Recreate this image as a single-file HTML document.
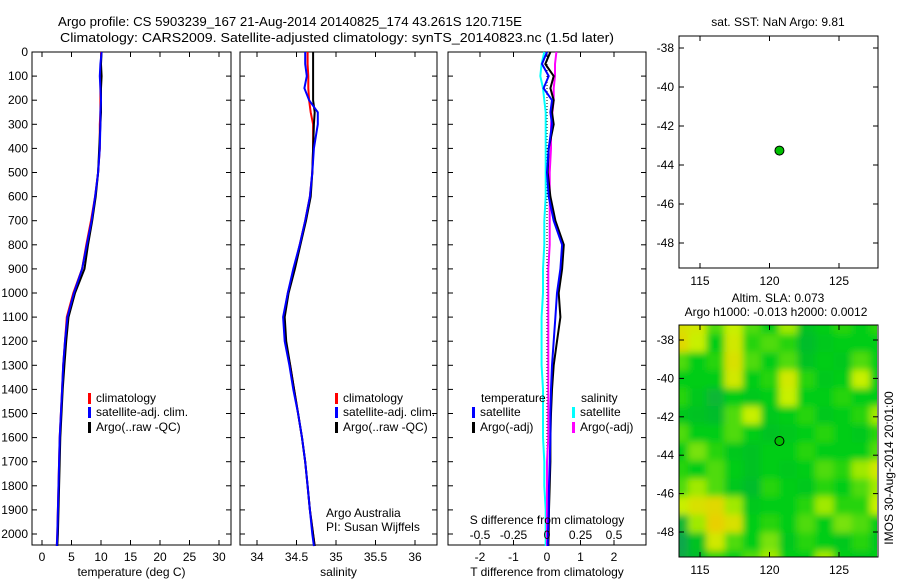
<!DOCTYPE html>
<html><head><meta charset="utf-8"><style>
body{margin:0;background:#fff}
svg text{font-family:"Liberation Sans",sans-serif;font-size:12px;fill:#000}
</style></head><body>
<svg id="c" width="900" height="580" xmlns="http://www.w3.org/2000/svg">
<defs>
<filter id="bl" x="-10%" y="-10%" width="120%" height="120%"><feGaussianBlur stdDeviation="3.5"/></filter>
<clipPath id="hc"><rect x="679" y="325" width="198" height="232"/></clipPath>
</defs>
<text x="58" y="26" style="font-size:13px" textLength="464" lengthAdjust="spacingAndGlyphs">Argo profile: CS 5903239_167 21-Aug-2014 20140825_174 43.261S 120.715E</text>
<text x="60" y="42" style="font-size:13px" textLength="554" lengthAdjust="spacingAndGlyphs">Climatology: CARS2009. Satellite-adjusted climatology: synTS_20140823.nc (1.5d later)</text>
<g id="g"></g>
</svg>
<script>
const depths=[0,50,100,150,200,250,300,400,500,600,700,800,900,1000,1100,1200,1300,1400,1500,1600,1700,1800,1900,2000,2050];
const tClim=[10,10,9.9,9.9,9.9,9.9,9.8,9.8,9.5,9.0,8.3,7.5,6.8,5.3,4.2,3.9,3.6,3.4,3.2,3.0,2.9,2.8,2.7,2.6,2.5];
const tSat=[10.1,9.9,9.8,9.9,10,9.9,9.9,9.8,9.5,9.0,8.4,7.6,6.8,5.4,4.3,3.9,3.6,3.4,3.2,3.0,2.9,2.8,2.7,2.6,2.5];
const tArgo=[10.1,10,10.1,10,10,10,9.9,9.7,9.5,9.1,8.5,7.8,7.2,5.6,4.5,4.1,3.8,3.5,3.3,3.1,3.0,2.9,2.8,2.7,2.6];
const sClim=[34.64,34.64,34.65,34.65,34.66,34.68,34.71,34.71,34.70,34.67,34.61,34.54,34.47,34.39,34.34,34.36,34.42,34.47,34.52,34.57,34.61,34.64,34.67,34.71,34.73];
const sSat=[34.61,34.61,34.63,34.60,34.66,34.77,34.77,34.72,34.70,34.67,34.61,34.54,34.46,34.39,34.33,34.35,34.41,34.46,34.52,34.57,34.61,34.64,34.67,34.70,34.72];
const sArgo=[34.71,34.71,34.71,34.71,34.71,34.73,34.72,34.71,34.70,34.68,34.62,34.55,34.48,34.40,34.35,34.37,34.42,34.47,34.52,34.57,34.61,34.64,34.67,34.71,34.73];
const dTsat=[0.0,-0.15,0.05,-0.1,0.15,0.1,0.15,0.05,0.0,0.05,0.2,0.45,0.4,0.3,0.25,0.2,0.15,0.12,0.1,0.1,0.08,0.06,0.05,0.03,0.02];
const dTargo=[0.1,-0.05,0.2,0.1,0.2,0.15,0.2,0.05,0.02,0.1,0.25,0.5,0.45,0.35,0.4,0.3,0.2,0.15,0.12,0.1,0.1,0.08,0.06,0.05,0.04];
const dSsat=[-0.02,-0.04,-0.05,-0.03,-0.02,-0.01,-0.01,-0.01,-0.01,-0.01,-0.02,-0.02,-0.03,-0.03,-0.04,-0.04,-0.04,-0.03,-0.03,-0.03,-0.02,-0.02,-0.01,-0.01,-0.01];
const dSargo=[0.07,0.06,0.06,0.05,0.05,0.04,0.03,0.03,0.02,0.02,0.02,0.02,0.01,0.01,0.01,0.01,0.01,0.01,0.01,0.01,0.0,0.0,0.0,0.0,0.0];
const depthTicks=[0,100,200,300,400,500,600,700,800,900,1000,1100,1200,1300,1400,1500,1600,1700,1800,1900,2000];
const tTicks=[0,5,10,15,20,25,30];
const sTicks=[34,34.5,35,35.5,36];
const dtTicks=[-2,-1,0,1,2];
const dsTicks=[-0.5,-0.25,0,0.25,0.5];
const latTicks=[-38,-40,-42,-44,-46,-48];
const lonTicks=[115,120,125];
const argoLon=120.715, argoLat=-43.261;
const sla=[
[.85,.8,.6,.75,.6,.5,.7,.4,.5,.55,.5,.55],
[.9,.75,.5,.8,.55,.6,.55,.35,.45,.5,.5,.5],
[.6,.5,.55,.85,.6,.5,.6,.4,.5,.45,.6,.5],
[.5,.5,.5,.8,.5,.55,.8,.55,.45,.5,.75,.5],
[.55,.45,.3,.5,.45,.5,.75,.5,.5,.55,.5,.5],
[.45,.4,.35,.6,.75,.45,.5,.55,.45,.5,.55,.7],
[.6,.5,.5,.6,.5,.4,.45,.5,.55,.5,.45,.55],
[.5,.65,.55,.45,.4,.5,.5,.55,.5,.5,.5,.6],
[.55,.5,.6,.5,.4,.5,.45,.5,.6,.55,.7,.8],
[.6,.7,.6,.45,.35,.55,.5,.45,.55,.5,.6,.7],
[.75,.85,.9,.7,.45,.5,.5,.55,.7,.55,.55,.75],
[.3,.7,.95,.85,.5,.55,.5,.6,.5,.65,.6,.5],
[.15,.4,.8,.6,.5,.65,.45,.55,.5,.45,.55,.45],
[.2,.35,.55,.5,.6,.7,.5,.5,.7,.5,.45,.5]];

const NS="http://www.w3.org/2000/svg";
const G=document.getElementById('g');
function mk(t,a,p){const e=document.createElementNS(NS,t);for(const k in a)e.setAttribute(k,a[k]);(p||G).appendChild(e);return e;}
function txt(x,y,s,anchor){const e=mk('text',{x:x,y:y,'text-anchor':anchor||'start'});e.textContent=s;return e;}
const yD=d=>52+d*0.241;
const P1={x0:32,x1:231,fx:v=>42+v*5.9};
const P2={x0:240,x1:437,fx:v=>257+(v-34)*79};
const P3={x0:448,x1:646,fx:v=>547+v*33.5,fs:v=>547+v*134};
const Y0=52,Y1=545;
function profPanel(P,ticks,fmt,name,label){
  const r=mk('rect',{x:P.x0,y:Y0,width:P.x1-P.x0,height:Y1-Y0,fill:'none',stroke:'#000'});
  
  
  ticks.forEach(v=>{const x=P.fx(v);
    mk('line',{x1:x,x2:x,y1:Y1,y2:Y1-5,stroke:'#000'});mk('line',{x1:x,x2:x,y1:Y0,y2:Y0+5,stroke:'#000'});
    const t=txt(x,561,fmt(v),'middle');});
  depthTicks.forEach(d=>{const y=yD(d);mk('line',{x1:P.x0,x2:P.x0+5,y1:y,y2:y,stroke:'#000'});mk('line',{x1:P.x1,x2:P.x1-5,y1:y,y2:y,stroke:'#000'});});
  if(label){const t=txt((P.x0+P.x1)/2,576,label,'middle');}
}
depthTicks.forEach(d=>{const t=txt(28,yD(d)+4,String(d),'end');});
profPanel(P1,tTicks,String,'temperature-panel','temperature (deg C)');
profPanel(P2,sTicks,String,'salinity-panel','salinity');
profPanel(P3,dtTicks,String,'difference-panel','T difference from climatology');
function line(arr,f,col,name,w){
  const pts=arr.map((v,i)=>f(v).toFixed(1)+','+yD(depths[i]).toFixed(1)).join(' ');
  const l=mk('polyline',{points:pts,fill:'none',stroke:col,'stroke-width':w||2});
  
  
}
line(tClim,P1.fx,'#f00','temp-climatology-line');line(tArgo,P1.fx,'#000','temp-argo-line');line(tSat,P1.fx,'#00f','temp-satellite-line');
line(sClim,P2.fx,'#f00','sal-climatology-line');line(sArgo,P2.fx,'#000','sal-argo-line');line(sSat,P2.fx,'#00f','sal-satellite-line');
mk('line',{x1:547,x2:547,y1:Y0,y2:Y1,stroke:'#000','stroke-dasharray':'1,2'});
line(dSsat,P3.fs,'#0ff','sdiff-satellite-line');line(dSargo,P3.fs,'#f0f','sdiff-argo-line');
line(dTargo,P3.fx,'#000','tdiff-argo-line');line(dTsat,P3.fx,'#00f','tdiff-satellite-line');
dsTicks.forEach(v=>{const t=txt(P3.fs(v),539,String(v),'middle');});
txt(547,524,'S difference from climatology','middle');
function leg(x,y,col,s,name){const r=mk('rect',{x:x,y:y-9,width:3,height:11,fill:col});txt(x+8,y,s);}
[88,335].forEach(x=>{leg(x,402,'#f00','climatology','legend-climatology');leg(x,416,'#00f','satellite-adj. clim.','legend-satellite');leg(x,431,'#000','Argo(..raw -QC)','legend-argo');});
txt(481,402,'temperature');txt(581,402,'salinity');
leg(472,416,'#00f','satellite','legend-t-satellite');leg(472,431,'#000','Argo(-adj)','legend-t-argo');
leg(572,416,'#0ff','satellite','legend-s-satellite');leg(572,431,'#f0f','Argo(-adj)','legend-s-argo');
txt(326,517,'Argo Australia');txt(326,531,'PI: Susan Wijffels');
const fLon=v=>700+(v-115)*13.9;
function mapPanel(y0,y1,fLat,name){
  lonTicks.forEach(v=>{const x=fLon(v);mk('line',{x1:x,x2:x,y1:y0,y2:y0+5,stroke:'#000'});mk('line',{x1:x,x2:x,y1:y1,y2:y1-5,stroke:'#000'});
    const t=txt(x,y1+17,String(v),'middle');});
  latTicks.forEach(v=>{const y=fLat(v);mk('line',{x1:679,x2:684,y1:y,y2:y,stroke:'#000'});mk('line',{x1:878,x2:873,y1:y,y2:y,stroke:'#000'});
    const t=txt(674,y+4,String(v),'end');});
  const r=mk('rect',{x:679,y:y0,width:199,height:y1-y0,fill:'none',stroke:'#000'});
  
  
  const c=mk('circle',{cx:fLon(argoLon),cy:fLat(argoLat),r:4.5,fill:'#00c000',stroke:'#000'});
  
  
}
txt(778,26,'sat. SST: NaN Argo: 9.81','middle');
const hg=mk('g',{'clip-path':'url(#hc)'});
const hb=mk('g',{filter:'url(#bl)'},hg);
function col(v){
  const lerp=(a,b,t)=>a.map((x,i)=>Math.round(x+(b[i]-x)*t));
  let c;
  if(v<0.5)c=lerp([20,150,100],[0,205,20],v/0.5);
  else if(v<0.75)c=lerp([0,205,20],[200,240,0],(v-0.5)/0.25);
  else c=lerp([200,240,0],[240,200,0],(v-0.75)/0.25);
  return 'rgb('+c.join(',')+')';
}
const nR=sla.length,nC=sla[0].length,cw=200/nC,ch=234/nR;
sla.forEach((row,i)=>row.forEach((v,j)=>{
  const r=mk('rect',{x:(670+j*cw*1.09).toFixed(1),y:(316+i*ch*1.08).toFixed(1),width:(cw*1.09+1).toFixed(1),height:(ch*1.08+1).toFixed(1),fill:col(v)},hb);
  
  
}));
mapPanel(36,268,v=>48+(-38-v)*19.5,'sst-map');
mapPanel(325,557,v=>340+(-38-v)*19.2,'sla-map');
txt(778,302,'Altim. SLA: 0.073','middle');
txt(776,316,'Argo h1000: -0.013 h2000: 0.0012','middle');
const vt=txt(0,0,'IMOS 30-Aug-2014 20:01:00','middle');vt.setAttribute('transform','translate(893,468) rotate(-90)');


</script>
</body></html>
